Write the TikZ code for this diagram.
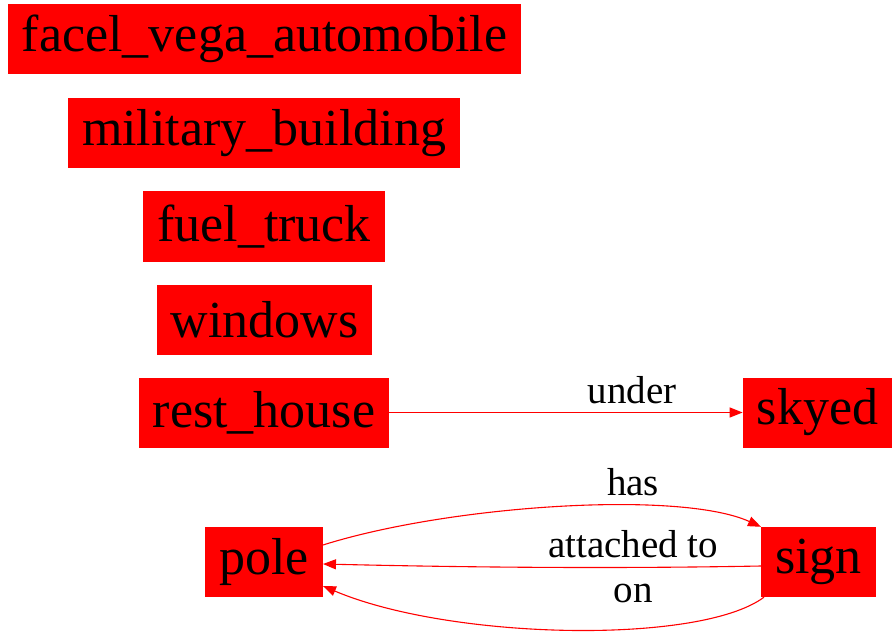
\documentclass[tikz,border=0pt]{standalone}
\usepackage{fontspec}
\setmainfont{Liberation Serif}
\usepackage{tikz}
\usetikzlibrary{arrows.meta}

\begin{document}
\begin{tikzpicture}[x=1pt, y=-1pt,
    entity/.style={fill=red, text=black, inner xsep=14pt, minimum height=70pt,
        font=\fontsize{52}{60}\selectfont},
    rel/.style={draw=red, line width=1.1pt, -{Triangle[length=13pt, width=10pt]}},
    lbl/.style={text=black, inner sep=0pt, font=\fontsize{39}{45}\selectfont}]
    \useasboundingbox (0,0) rectangle (896,636);

    % objects without relations
    \node[entity] (facel) at (264.5, 39) {facel\_vega\_automobile};
    \node[entity] (military) at (264, 133) {military\_building};
    \node[entity] (fuel) at (264, 226.5) {fuel\_truck};
    \node[entity] (windows) at (264.5, 319.5) {windows};

    % related objects
    \node[entity] (resthouse) at (264, 412.5) {rest\_house};
    \node[entity] (skyed) at (817.5, 412.5) {skyed};
    \node[entity] (pole) at (264, 562) {pole};
    \node[entity] (sign) at (818.5, 562) {sign};

    \draw[rel] (resthouse) -- (skyed);
    \node[lbl] (under) at (632, 390) {under};

    \draw[rel] ([yshift=17pt]pole.east) .. controls (450, 505) and (680, 490) .. (sign.north west);
    \node[lbl] (has) at (633, 482) {has};

    \draw[rel] ([yshift=-4pt]sign.west) .. controls (600, 569) and (450, 567) .. ([yshift=-2pt]pole.east);
    \node[lbl] (attached) at (633, 544) {attached to};

    \draw[rel] ([xshift=3pt]sign.south west) .. controls (700, 645) and (450, 640) .. ([yshift=-24pt]pole.east);
    \node[lbl] (on) at (633, 593) {on};
\end{tikzpicture}
\end{document}
